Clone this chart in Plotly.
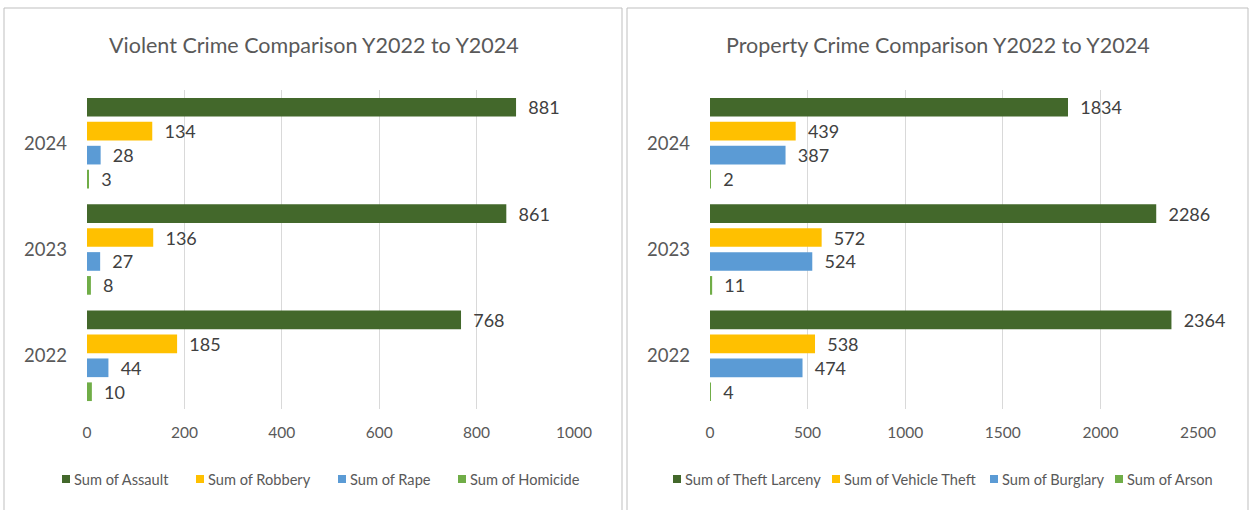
import plotly.graph_objects as go

years = ["2024", "2023", "2022"]

violent_names = ["Sum of Assault", "Sum of Robbery", "Sum of Rape", "Sum of Homicide"]
assault = [881, 861, 768]
robbery = [134, 136, 185]
rape = [28, 27, 44]
homicide = [3, 8, 10]

property_names = ["Sum of Theft Larceny", "Sum of Vehicle Theft", "Sum of Burglary", "Sum of Arson"]
theft_larceny = [1834, 2286, 2364]
vehicle_theft = [439, 572, 538]
burglary = [387, 524, 474]
arson = [2, 11, 4]

colors = ["#43682B", "#FFC000", "#5B9BD5", "#70AD47"]

W, H = 1252, 510
FONT = "Lato"
TXT = "#595959"

def px(x):
    return x / W

def py(y):
    return 1 - y / H

# left edge of the legend key squares (pixels)
violent_key_x = [62, 196, 338, 458]
property_key_x = [673, 832, 990, 1115]
KEY_Y = 479
KEY = 8

fig = go.Figure()

violent = [assault, robbery, rape, homicide]
prop = [theft_larceny, vehicle_theft, burglary, arson]

shapes = [
    dict(type="rect", xref="paper", yref="paper", x0=px(4), x1=px(622), y0=py(515), y1=py(8),
         line=dict(color="#BFBFBF", width=1), fillcolor="rgba(0,0,0,0)", layer="below"),
    dict(type="rect", xref="paper", yref="paper", x0=px(627), x1=px(1248), y0=py(515), y1=py(8),
         line=dict(color="#BFBFBF", width=1), fillcolor="rgba(0,0,0,0)", layer="below"),
]
annotations = [
    dict(text="Violent Crime Comparison Y2022 to Y2024", x=px(314), y=py(45),
         xref="paper", yref="paper", showarrow=False, xanchor="center", yanchor="middle",
         font=dict(size=21.5, color=TXT, family=FONT)),
    dict(text="Property Crime Comparison Y2022 to Y2024", x=px(938), y=py(45),
         xref="paper", yref="paper", showarrow=False, xanchor="center", yanchor="middle",
         font=dict(size=21.5, color=TXT, family=FONT)),
]

for names, series, kx, xa, ya in [(violent_names, violent, violent_key_x, "x", "y"),
                                  (property_names, prop, property_key_x, "x2", "y2")]:
    for name, vals, c, k in zip(names, series, colors, kx):
        fig.add_trace(go.Bar(
            y=years, x=vals, name=name, orientation="h",
            marker=dict(color=c, line=dict(width=0)),
            text=vals, texttemplate="\u00a0\u00a0%{x}", textposition="outside",
            constraintext="none",
            textfont=dict(size=18, color="#404040", family=FONT),
            cliponaxis=False, xaxis=xa, yaxis=ya, showlegend=False,
            hoverinfo="skip",
        ))
        # legend key
        shapes.append(dict(type="rect", xref="paper", yref="paper",
                           x0=px(k), x1=px(k + KEY), y0=py(KEY_Y + KEY / 2), y1=py(KEY_Y - KEY / 2),
                           line=dict(width=0), fillcolor=c))
        annotations.append(dict(text=name, x=px(k + KEY + 2), y=py(KEY_Y), xref="paper", yref="paper",
                                showarrow=False, xanchor="left", yanchor="middle",
                                font=dict(size=14.6, color=TXT, family=FONT)))

ydom = [py(409), py(90)]
axis_common = dict(showgrid=True, gridcolor="#D9D9D9", gridwidth=1, zeroline=False,
                   showline=False, ticks="", automargin=False, ticklabelstandoff=12,
                   tickfont=dict(size=15.5, color=TXT, family=FONT))
yaxis_common = dict(type="category", autorange="reversed", showgrid=False, zeroline=False,
                    showline=False, ticks="", automargin=False, ticklabelstandoff=19,
                    tickfont=dict(size=18.5, color=TXT, family=FONT), domain=ydom)

fig.update_layout(
    width=W, height=H,
    margin=dict(l=0, r=0, t=0, b=0),
    paper_bgcolor="white", plot_bgcolor="white",
    barmode="group", bargap=0.10, bargroupgap=0.22,
    font=dict(family=FONT, color=TXT),
    xaxis=dict(domain=[px(87), px(574)], range=[0, 1000], dtick=200, anchor="y", **axis_common),
    yaxis=dict(anchor="x", **yaxis_common),
    xaxis2=dict(domain=[px(710), px(1198)], range=[0, 2500], dtick=500, anchor="y2", **axis_common),
    yaxis2=dict(anchor="x2", **yaxis_common),
    showlegend=False,
    annotations=annotations,
    shapes=shapes,
)

fig.write_html("out.html", config={"displayModeBar": False},
               post_script="document.body.style.margin='0';document.body.style.overflow='hidden';")
